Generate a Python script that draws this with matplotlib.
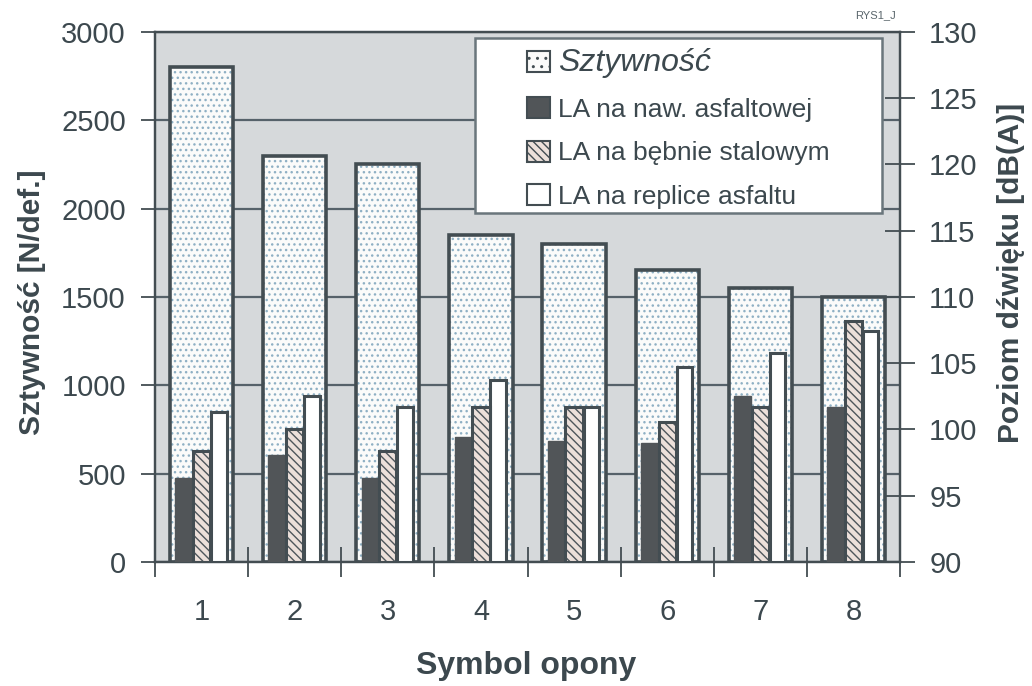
import numpy as np
import matplotlib
matplotlib.use("Agg")
import matplotlib.pyplot as plt
from matplotlib.patches import Patch, Rectangle

plt.rcParams.update({"font.family": ["Liberation Sans", "DejaVu Sans"],
                     "hatch.linewidth": 1.0})

TXT = "#3c484e"
EDGE = "#434d52"

# data
tyres = [1, 2, 3, 4, 5, 6, 7, 8]
stiffness = [2800, 2300, 2250, 1850, 1800, 1650, 1550, 1500]       # N/def.
la_asphalt = [96.3, 98.1, 96.3, 99.4, 99.1, 99.0, 102.5, 101.7]    # dB(A)
la_drum = [98.4, 100.0, 98.4, 101.7, 101.7, 100.6, 101.7, 108.2]
la_replica = [101.3, 102.5, 101.7, 103.7, 101.7, 104.7, 105.8, 107.4]

labels = ["Sztywność", "LA na naw. asfaltowej", "LA na bębnie stalowym",
          "LA na replice asfaltu"]

x = np.array(tyres, dtype=float)

fig = plt.figure(figsize=(10.32, 6.86), dpi=100)
ax = fig.add_axes([0.1502, 0.1808, 0.7219, 0.7726])
ax.set_facecolor("#d6d9db")
ax.set_xlim(0.5, 8.5)
ax.set_ylim(0, 3000)
ax.set_yticks(np.arange(0, 3001, 500))
ax.yaxis.grid(True, color="#56626a", lw=1.6, zorder=1)
ax.set_axisbelow(True)

# stiffness bars: dotted fill, then a heavy outline
ax.bar(x, stiffness, 0.68, color="#fbfbfa", edgecolor="#8fb0c4", hatch="...",
       lw=0, zorder=2)
ax.bar(x, stiffness, 0.68, fill=False, edgecolor=EDGE, lw=2.6, zorder=2.5)

ax2 = ax.twinx()
ax2.set_ylim(90, 130)
ax2.set_yticks(np.arange(90, 131, 5))
ax2.patch.set_visible(False)

w = 0.185
ax2.bar(x - 0.19, np.array(la_asphalt) - 90, w, bottom=90, color="#515558",
        edgecolor="#515558", lw=1, zorder=3)
ax2.bar(x, np.array(la_drum) - 90, w, bottom=90, color="#ece0da",
        edgecolor="#4e565b", hatch="\\\\\\\\", lw=0, zorder=3)
ax2.bar(x, np.array(la_drum) - 90, w, bottom=90, fill=False,
        edgecolor=EDGE, lw=2.2, zorder=3.2)
ax2.bar(x + 0.185, np.array(la_replica) - 90, w * 0.9, bottom=90, color="white",
        edgecolor=EDGE, lw=2.2, zorder=3.1)

# axes styling
for a in (ax, ax2):
    for s in a.spines.values():
        s.set_color(EDGE)
        s.set_linewidth(1.6)

ax.set_xticks(x)
ax.set_xticklabels([str(t) for t in tyres])
ax.set_xticks(np.arange(0.5, 8.6, 1.0), minor=True)
ax.tick_params(axis="x", which="major", length=0, pad=26, labelsize=21,
               labelcolor=TXT)
ax.tick_params(axis="x", which="minor", direction="inout", length=22,
               width=1.3, color=EDGE)
ax.tick_params(axis="y", direction="out", length=10, width=1.3, color=EDGE,
               pad=11, labelsize=21, labelcolor=TXT)
ax2.tick_params(axis="y", direction="inout", length=22, width=1.3, color=EDGE,
                pad=10, labelsize=21, labelcolor=TXT)

fig.text(0.510, 0.029, "Symbol opony", ha="center", va="center",
         fontsize=23, fontweight="bold", color=TXT)
fig.text(0.031, 0.560, "Sztywność [N/def.]", ha="center", va="center",
         rotation=90, fontsize=21.5, fontweight="bold", color=TXT)
fig.text(0.980, 0.602, "Poziom dźwięku [dB(A)]", ha="center", va="center",
         rotation=90, fontsize=21.5, fontweight="bold", color=TXT)
fig.text(0.848, 0.978, "RYS1_J", ha="center", va="center", fontsize=8,
         color="#5a666c")

# legend box
fig.patches.append(Rectangle((0.4603, 0.6895), 0.3944, 0.2551,
                             transform=fig.transFigure, facecolor="white",
                             edgecolor="#6a767c", lw=1.8, zorder=5))
handles = [
    Patch(facecolor="#fbfbfa", edgecolor=EDGE, hatch="..", lw=1.5),
    Patch(facecolor="#515558", edgecolor=EDGE, lw=1.5),
    Patch(facecolor="#ece0da", edgecolor=EDGE, hatch="\\\\\\\\", lw=1.5),
    Patch(facecolor="white", edgecolor=EDGE, lw=1.5),
]
leg = fig.legend(handles, labels, loc="upper left",
                 bbox_to_anchor=(0.511, 0.93), frameon=False, fontsize=19,
                 handlelength=0.85, handleheight=0.85, handletextpad=0.3,
                 labelspacing=0.72, borderpad=0, borderaxespad=0)
leg.set_zorder(6)
for t in leg.get_texts():
    t.set_color(TXT)
leg.get_texts()[0].set_fontsize(23)
leg.get_texts()[0].set_fontstyle("italic")

fig.savefig("out.png", dpi=100)
